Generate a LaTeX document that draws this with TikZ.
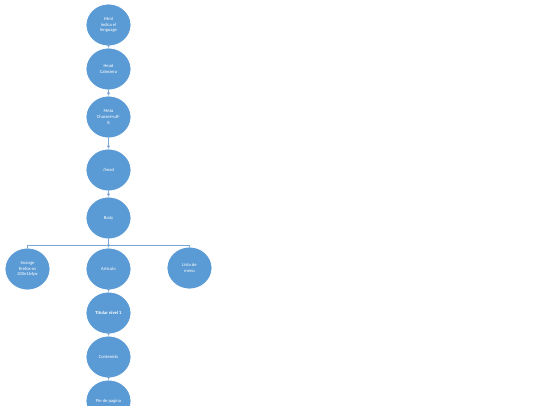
\documentclass[tikz,border=0pt]{standalone}
\usepackage{fontspec}
\setmainfont{Carlito}
\usetikzlibrary{calc,shapes.geometric,arrows.meta}

\definecolor{bubbleBlue}{HTML}{5B9BD5}
\definecolor{linkBlue}{HTML}{7FA7D4}

\begin{document}
\begin{tikzpicture}[x=1pt, y=-1pt,
        bubble/.style={ellipse, fill=bubbleBlue, draw=white, line width=0.8pt,
            minimum width=45pt, minimum height=42pt, inner sep=0pt,
            align=center, text=white, font=\fontsize{4.6}{5.6}\selectfont},
        wire/.style={draw=linkBlue, line width=0.5pt},
        link/.style={wire, -{Triangle[length=3pt, width=3pt]}}]
    \useasboundingbox (0,0) rectangle (540,405);
    \pgfmathsetmacro{\midX}{108.5}
    % main column
    \foreach \name/\y/\txt in {html/25/{Html\\indica el\\lenguage},
            head/69/{Head\\Cabezera}, meta/117/{Meta\\Charset=utf-\\8},
            endhead/170/{/head}, body/218/{Body}, articulo/269/{Articulo},
            titular/313/{\textbf{Titular nivel 1}}, contenido/357/{Contenido},
            pie/401/{Pie de pagina}}{
        \node[bubble] (\name) at (\midX,\y) {\txt};
    }
    % side branches
    \node[bubble] (imange) at (27.5,269) {Imange\\firefox-os\\200x164px};
    \node[bubble] (lista) at (189.5,268) {Lista de\\menu};
    \foreach \a/\b in {html/head, head/meta, meta/endhead, endhead/body,
            articulo/titular, titular/contenido, contenido/pie}{
        \draw[link] (\a) -- (\b);
    }
    \coordinate (fork) at (\midX,245);
    \draw[wire] (body) -- (fork);
    \draw[link] (fork) -- (articulo);
    \foreach \b in {imange, lista}{
        \draw[wire] (fork) -| (\b.north);
    }
\end{tikzpicture}
\end{document}
